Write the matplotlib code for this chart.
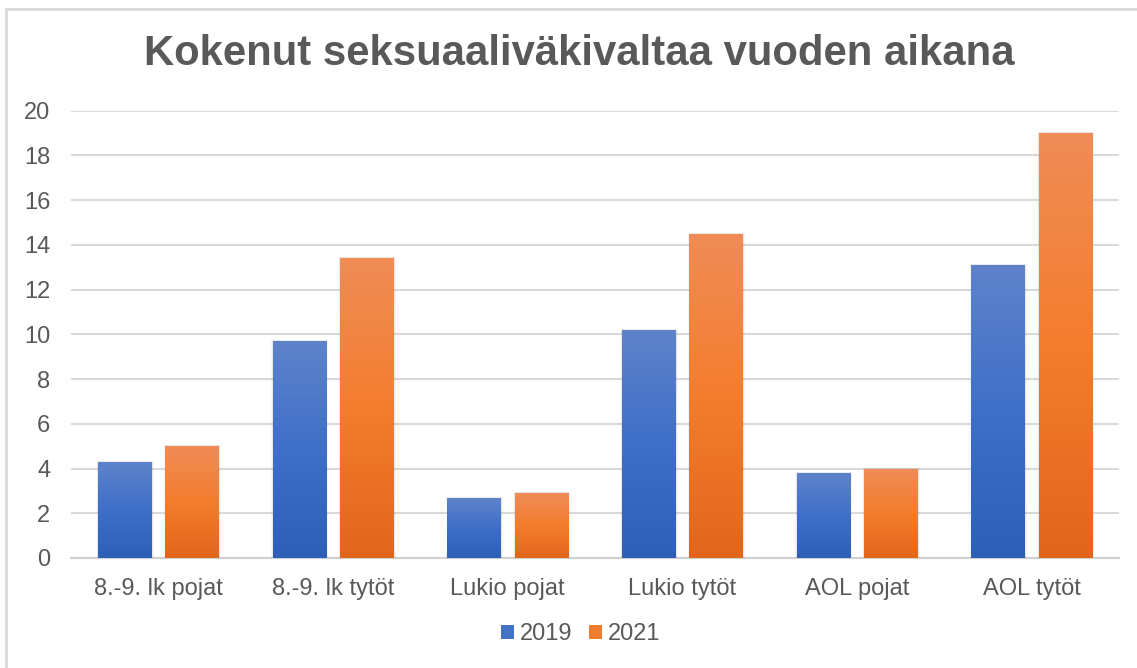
import matplotlib
matplotlib.use("Agg")
import matplotlib.pyplot as plt
import numpy as np
from matplotlib.colors import LinearSegmentedColormap
from matplotlib.patches import Patch, Rectangle

categories = ["8.-9. lk pojat", "8.-9. lk tytöt", "Lukio pojat", "Lukio tytöt", "AOL pojat", "AOL tytöt"]
series_names = ["2019", "2021"]
values_2019 = [4.3, 9.7, 2.7, 10.2, 3.8, 13.1]
values_2021 = [5.0, 13.4, 2.9, 14.5, 4.0, 19.0]
title = "Kokenut seksuaaliväkivaltaa vuoden aikana"
yticks = [0, 2, 4, 6, 8, 10, 12, 14, 16, 18, 20]

plt.rcParams['font.family'] = ['Liberation Sans', 'DejaVu Sans']
W, H = 1137, 668
fig = plt.figure(figsize=(W / 100, H / 100), dpi=100)
fig.patch.set_facecolor("white")

# outer chart border
fig.add_artist(Rectangle((6 / W, -0.05), 1.2, (H - 9) / H + 0.05, transform=fig.transFigure,
                         fill=False, edgecolor="#d9d9d9", linewidth=2))

ax_left, ax_right = 71, 1119
ax_top, ax_bottom = 110.7, 558
ax = fig.add_axes([ax_left / W, (H - ax_bottom) / H, (ax_right - ax_left) / W, (ax_bottom - ax_top) / H])

blue_cmap = LinearSegmentedColormap.from_list("b", ["#2d5fb9", "#3f6fc8", "#5e83cb"])
orange_cmap = LinearSegmentedColormap.from_list("o", ["#e1661a", "#f47d2d", "#f08c57"])

x = np.arange(len(categories))
width = 0.305
offset = 0.193
grad = np.linspace(0, 1, 256).reshape(-1, 1)

for vals, cmap, off in [(values_2019, blue_cmap, -offset), (values_2021, orange_cmap, offset)]:
    bars = ax.bar(x + off, vals, width, color="none", edgecolor="none", zorder=3)
    for b in bars:
        x0, w, h = b.get_x(), b.get_width(), b.get_height()
        # soft shadow
        for k, a in [(0.014, 0.035), (0.008, 0.05)]:
            ax.add_patch(Rectangle((x0 - k * 0.5, 0), w + k * 1.5, h + 0.04, facecolor="black",
                                   alpha=a, edgecolor="none", zorder=2.5))
        im = ax.imshow(grad, extent=(x0, x0 + w, 0, h), origin="lower", cmap=cmap,
                       aspect="auto", zorder=3, interpolation="bilinear")
        im.set_clip_path(b)

ax.set_xlim(-0.5, len(categories) - 0.5)
ax.set_ylim(0, 20)
ax.set_yticks(yticks)
ax.set_xticks(x)
ax.set_xticklabels(categories)
ax.tick_params(axis="both", length=0, labelsize=17, labelcolor="#595959")
ax.tick_params(axis="x", pad=14.5)
ax.tick_params(axis="y", pad=15)
ax.grid(axis="y", color="#d9d9d9", linewidth=1.5, zorder=0)
ax.set_axisbelow(True)
for s in ["top", "right", "left"]:
    ax.spines[s].set_visible(False)
ax.spines["bottom"].set_color("#d0d0d0")
ax.spines["bottom"].set_linewidth(1.5)
ax.spines["bottom"].set_zorder(1)

fig.text(579 / W, 1 - 54 / H, title, ha="center", va="center", fontsize=30.2,
         fontweight="bold", color="#595959")

handles = [Patch(facecolor="#4472c4", edgecolor="none"), Patch(facecolor="#ed7d31", edgecolor="none")]
fig.legend(handles, series_names, loc="center", bbox_to_anchor=(581 / W, 1 - 634 / H), ncol=2,
           frameon=False, fontsize=17, labelcolor="#595959", handlelength=0.55, handleheight=0.55,
           handletextpad=0.25, columnspacing=0.7)

fig.savefig("out.png", dpi=100, facecolor="white")
